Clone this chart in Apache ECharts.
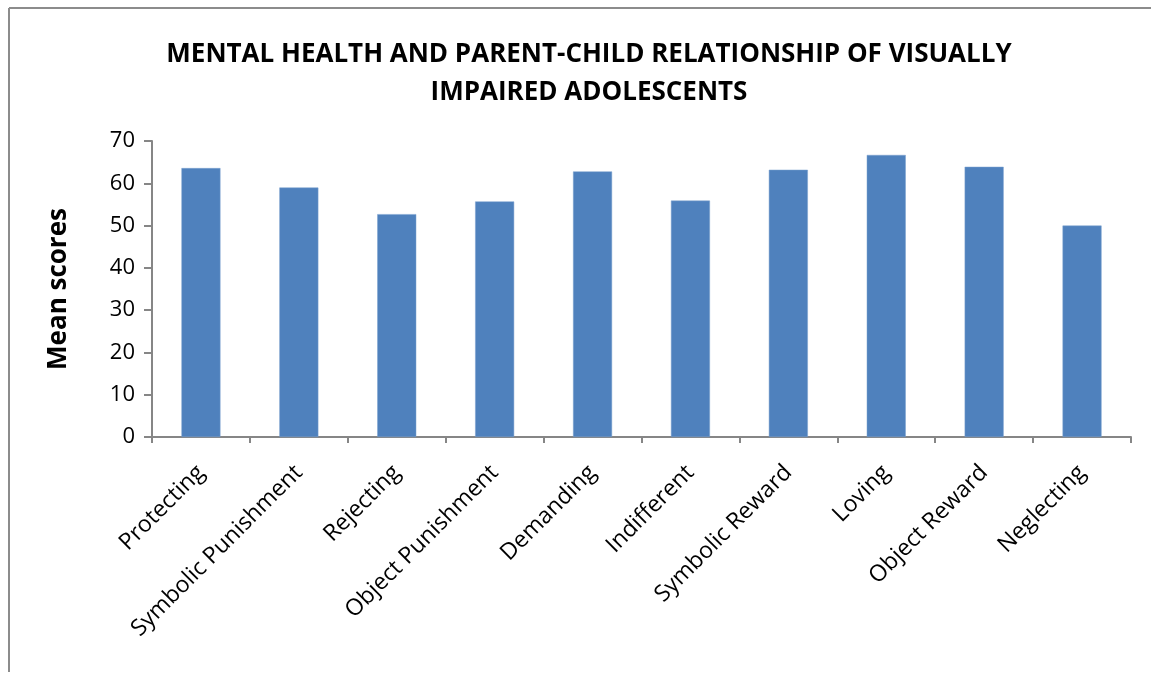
<!DOCTYPE html>
<html>
<head>
<meta charset="utf-8">
<script src="https://cdn.jsdelivr.net/npm/echarts@6/dist/echarts.min.js"></script>
<style>html,body{margin:0;padding:0;background:#fff}#c{width:1151px;height:675px}</style>
</head>
<body>
<div id="c"></div>
<script>
const titleText = 'MENTAL HEALTH AND PARENT-CHILD RELATIONSHIP OF VISUALLY\nIMPAIRED ADOLESCENTS';
const yAxisName = 'Mean scores';
const categories = ['Protecting', 'Symbolic Punishment', 'Rejecting', 'Object Punishment', 'Demanding', 'Indifferent', 'Symbolic Reward', 'Loving', 'Object Reward', 'Neglecting'];
const meanScores = [63.6, 59.0, 52.7, 55.7, 62.8, 55.9, 63.2, 66.7, 63.9, 50.0];
const yMin = 0, yMax = 70, yStep = 10;

const chart = echarts.init(document.getElementById('c'), null, {renderer: 'canvas'});
chart.setOption({
  backgroundColor: '#ffffff',
  animation: false,
  title: {
    text: titleText,
    left: 584, top: 31, textAlign: 'center',
    textStyle: {fontFamily: 'Open Sans', fontWeight: 'bold', fontSize: 26, color: '#000', lineHeight: 38}
  },
  graphic: [
    {type: 'line', shape: {x1: 9, y1: 8, x2: 9, y2: 672}, style: {stroke: '#8c8c8c', lineWidth: 2}},
    {type: 'line', shape: {x1: 9, y1: 8, x2: 1151, y2: 8}, style: {stroke: '#8c8c8c', lineWidth: 2}}
  ],
  grid: {left: 152, right: 20, top: 141, bottom: 238},
  xAxis: {
    type: 'category', data: categories,
    axisLine: {lineStyle: {color: '#868686', width: 2}},
    axisTick: {show: true, alignWithLabel: false, length: 6, lineStyle: {color: '#868686', width: 2}},
    axisLabel: {rotate: 45, interval: 0, margin: 32, fontFamily: 'Open Sans', fontSize: 23, color: '#000'}
  },
  yAxis: {
    type: 'value', min: yMin, max: yMax, interval: yStep,
    name: yAxisName, nameLocation: 'middle', nameGap: 80, nameRotate: 90,
    nameTextStyle: {fontFamily: 'Open Sans', fontWeight: 'bold', fontSize: 26, color: '#000'},
    axisLine: {show: true, lineStyle: {color: '#868686', width: 2}},
    axisTick: {show: true, length: 8, lineStyle: {color: '#868686', width: 2}},
    splitLine: {show: false},
    axisLabel: {margin: 17, fontFamily: 'Open Sans', fontSize: 22, color: '#000'}
  },
  series: [{
    type: 'bar', data: meanScores, barWidth: 39,
    itemStyle: {color: '#4F81BD', borderColor: '#7aa0cf', borderWidth: 0.5}
  }]
});
</script>
</body>
</html>
